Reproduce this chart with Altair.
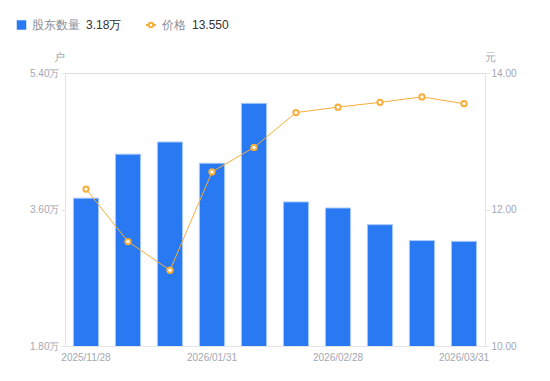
import altair as alt
import pandas as pd

dates = ["2025/11/28", "2025/12/10", "2025/12/31", "2026/01/31", "2026/02/10",
         "2026/02/20", "2026/02/28", "2026/03/10", "2026/03/20", "2026/03/31"]
holders = [3.75, 4.33, 4.49, 4.21, 5.00, 3.70, 3.62, 3.40, 3.19, 3.18]   # 万户
price = [12.30, 11.53, 11.11, 12.55, 12.91, 13.42, 13.50, 13.57, 13.65, 13.55]
shown_dates = [dates[0], dates[3], dates[6], dates[9]]

BLUE = "#2979F2"
ORANGE = "#F7AE3B"
LABEL = "#A3A7B2"
AXIS = "#E3E5E8"

df = pd.DataFrame({"date": dates, "holders": holders, "price": price})

x = alt.X("date:N", sort=None, title=None,
          scale=alt.Scale(paddingInner=0.4, paddingOuter=0.2),
          axis=alt.Axis(values=shown_dates, labelAngle=0, ticks=False,
                        domainColor=AXIS, labelColor=LABEL, labelFontSize=10,
                        labelPadding=6, labelFont="Arial"))

bars = alt.Chart(df).mark_bar(color=BLUE, stroke="#A9C9FA", strokeWidth=1, clip=True).encode(
    x=x,
    y=alt.Y("holders:Q", title="户",
            scale=alt.Scale(domain=[1.8, 5.4], zero=False, nice=False),
            axis=alt.Axis(values=[1.8, 3.6, 5.4], grid=False,
                          labelExpr="format(datum.value, '.2f') + '万'",
                          domainColor=AXIS, tickColor=AXIS, tickSize=4,
                          labelColor=LABEL, labelFontSize=10, labelPadding=2,
                          labelFont="Arial",
                          titleAngle=0, titleX=-6, titleY=-16, titleAlign="center",
                          titleBaseline="middle", titleColor=LABEL, titleFontSize=11,
                          titleFontWeight="normal")),
)

price_y = alt.Y("price:Q", title="元",
                scale=alt.Scale(domain=[10, 14], zero=False, nice=False),
                axis=alt.Axis(orient="right", values=[10, 12, 14], grid=False,
                              format=".2f", domainColor=AXIS, tickColor=AXIS, tickSize=4,
                              labelColor=LABEL, labelFontSize=10, labelPadding=2,
                              labelFont="Arial",
                              titleAngle=0, titleX=5, titleY=-16, titleAlign="center",
                              titleBaseline="middle", titleColor=LABEL, titleFontSize=11,
                              titleFontWeight="normal"))

line = alt.Chart(df).mark_line(color=ORANGE, strokeWidth=1).encode(x=x, y=price_y)
pts = alt.Chart(df).mark_point(filled=True, fill="white", stroke=ORANGE,
                               strokeWidth=2, size=28, opacity=1).encode(x=x, y=price_y)
right = alt.layer(line, pts)

# legend (decoration)
leg_df = pd.DataFrame({"a": [0]})
v1 = f"{holders[-1]:.2f}万"
v2 = f"{price[-1]:.3f}"
LY = -48
leg_base = alt.Chart(leg_df)
sq = leg_base.mark_square(color=BLUE, size=90, opacity=1, cornerRadius=2).encode(
    x=alt.value(-43.5), y=alt.value(LY))
t1 = leg_base.mark_text(align="left", baseline="middle", fontSize=12, color="#8A8E99").encode(
    x=alt.value(-33), y=alt.value(LY), text=alt.value("股东数量"))
t1v = leg_base.mark_text(align="left", baseline="middle", fontSize=12, color="#333333").encode(
    x=alt.value(21), y=alt.value(LY), text=alt.value(v1))
lr = leg_base.mark_rule(color=ORANGE, strokeWidth=2).encode(
    x=alt.value(81), x2=alt.value(91), y=alt.value(LY))
lp = leg_base.mark_point(filled=True, fill="white", stroke=ORANGE, strokeWidth=2,
                         size=20, opacity=1).encode(x=alt.value(86), y=alt.value(LY))
t2 = leg_base.mark_text(align="left", baseline="middle", fontSize=12, color="#8A8E99").encode(
    x=alt.value(97), y=alt.value(LY), text=alt.value("价格"))
t2v = leg_base.mark_text(align="left", baseline="middle", fontSize=12, color="#333333").encode(
    x=alt.value(127), y=alt.value(LY), text=alt.value(v2))
legend = alt.layer(sq, t1, t1v, lr, lp, t2, t2v)

chart = alt.layer(bars, right, legend).resolve_scale(y="independent").properties(
    width=420, height=273,
    autosize=alt.AutoSizeParams(type="none"),
    padding={"left": 57, "top": 65, "right": 50, "bottom": 18},
).configure_view(stroke=None).configure(font="Arial")

chart.save("out.html", embed_options={"renderer": "svg", "actions": False})
